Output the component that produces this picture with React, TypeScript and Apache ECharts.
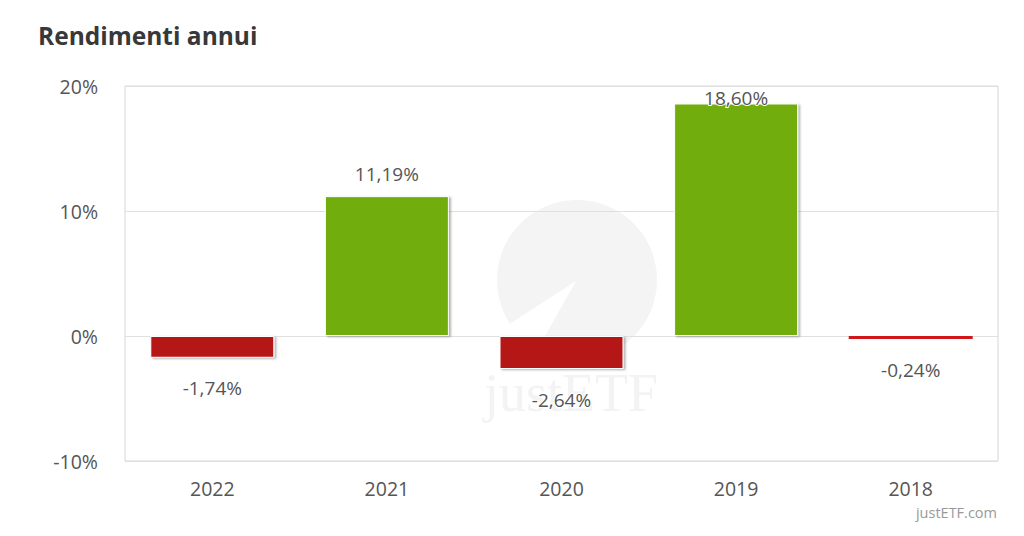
import React, { useEffect, useRef } from "react";
import * as echarts from "echarts";

const categories = ["2022", "2021", "2020", "2019", "2018"];
const returns = [-1.74, 11.19, -2.64, 18.6, -0.24];
const yTicks = { min: -10, max: 20, interval: 10 };

const GREEN = "#70ad08";
const RED = "#b51212";

const fmt = (v: number) => v.toFixed(2).replace(".", ",") + "%";

export default function App() {
  const ref = useRef<HTMLDivElement>(null);
  useEffect(() => {
    if (!ref.current) return;
    const chart = echarts.init(ref.current, undefined, { renderer: "svg" });
    const data = returns.map((v) => {
      const pos = v >= 0;
      const label: any = pos
        ? { position: "top", distance: 13 }
        : { position: "bottom", distance: 21 };
      if (v === 18.6) {
        label.distance = -4;
      }
      const tiny = Math.abs(v) < 0.5;
      return {
        value: v,
        itemStyle: tiny
          ? { color: "#d01818", borderWidth: 0, shadowBlur: 0, shadowOffsetX: 0, shadowOffsetY: 0, shadowColor: "transparent" }
          : { color: pos ? GREEN : RED },
        label,
      };
    });
    chart.setOption({
      animation: false,
      backgroundColor: "#ffffff",
      textStyle: { fontFamily: "Open Sans" },
      title: {
        text: "Rendimenti annui",
        left: 33,
        top: 18,
        textStyle: {
          fontFamily: "Open Sans",
          fontWeight: "bold",
          fontSize: 24.5,
          color: "#383838",
        },
      },
      graphic: [
        {
          type: "circle",
          shape: { cx: 577, cy: 280, r: 80 },
          style: { fill: "#f4f4f4" },
          z: -10,
          silent: true,
        },
        {
          type: "polygon",
          shape: {
            points: [
              [576, 281],
              [488, 338],
              [520, 335],
              [540, 345],
            ],
          },
          style: { fill: "#ffffff" },
          z: -9,
          silent: true,
        },
        {
          type: "text",
          left: 484,
          top: 366,
          style: {
            text: "justETF",
            font: "54px 'Liberation Serif', serif",
            fill: "#f3f3f3",
          },
          z: -9,
          silent: true,
        },
        {
          type: "text",
          right: 27,
          top: 505,
          style: {
            text: "justETF.com",
            font: "14.5px 'Open Sans'",
            fill: "#999999",
          },
        },
      ],
      grid: {
        left: 125,
        right: 26,
        top: 86,
        bottom: 75,
        show: true,
        borderColor: "#d6d6d6",
        borderWidth: 1,
        backgroundColor: "transparent",
      },
      xAxis: {
        type: "category",
        data: categories,
        axisLine: { show: false },
        axisTick: { show: false },
        axisLabel: {
          color: "#555555",
          fontSize: 19.5,
          margin: 17,
          fontFamily: "Open Sans",
        },
      },
      yAxis: {
        type: "value",
        min: yTicks.min,
        max: yTicks.max,
        interval: yTicks.interval,
        axisLine: { show: false },
        axisTick: { show: false },
        splitLine: { lineStyle: { color: "#e0e0e0", width: 1 } },
        axisLabel: {
          formatter: "{value}%",
          color: "#555555",
          fontSize: 19.5,
          margin: 27,
          fontFamily: "Open Sans",
        },
      },
      series: [
        {
          type: "bar",
          data,
          barWidth: "71%",
          itemStyle: {
            borderColor: "#ffffff",
            borderWidth: 1,
            shadowColor: "rgba(0,0,0,0.3)",
            shadowBlur: 2,
            shadowOffsetX: 2,
            shadowOffsetY: 1,
          },
          label: {
            show: true,
            formatter: (p: any) => fmt(p.value),
            color: "#555555",
            fontSize: 19,
            fontFamily: "Open Sans",
            textBorderColor: "#ffffff",
            textBorderWidth: 2,
          },
        },
      ],
    });
    return () => chart.dispose();
  }, []);
  return (
    <div
      ref={ref}
      style={{ position: "fixed", left: 0, top: 0, width: 1024, height: 536 }}
    />
  );
}
